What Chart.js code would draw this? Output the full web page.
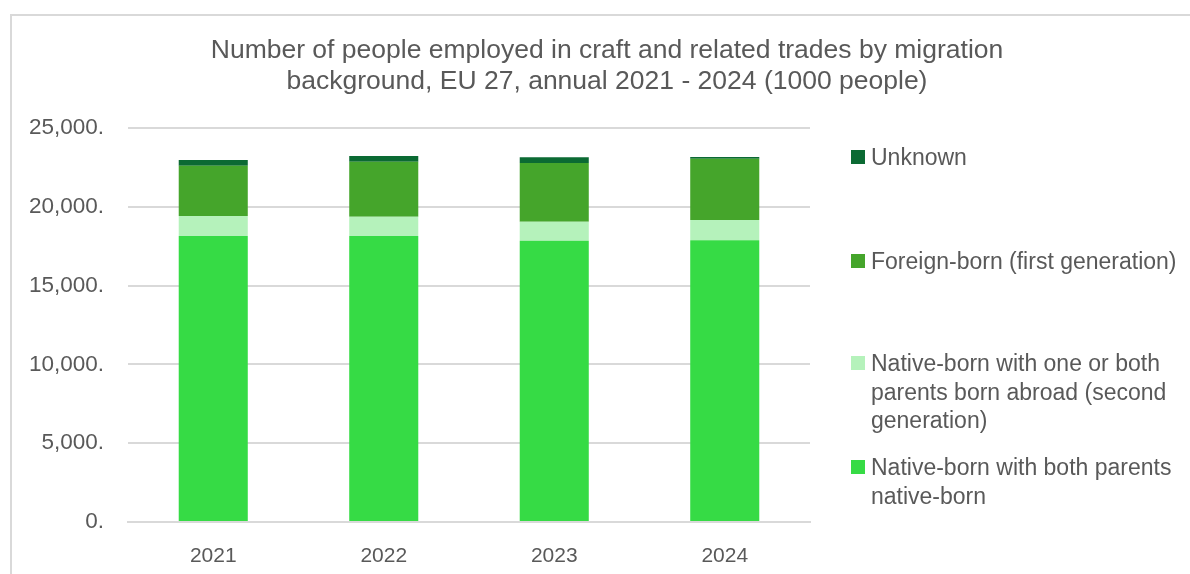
<!DOCTYPE html>
<html>
<head>
<meta charset="utf-8">
<script src="https://cdn.jsdelivr.net/npm/chart.js@4/dist/chart.umd.min.js"></script>
<style>
  html, body { margin: 0; padding: 0; background: #fff; }
  body { width: 1190px; height: 574px; position: relative; overflow: hidden; font-family: "Liberation Sans", Arial, sans-serif; color: #595959; }
  .frame { position: absolute; left: 10px; top: 14px; width: 1300px; height: 700px; border: 2px solid #d9d9d9; box-sizing: border-box; }
  #wrap { position: absolute; left: 0; top: 0; width: 1190px; height: 574px; }
  .title { position: absolute; left: 0; top: 34px; width: 1214px; text-align: center; font-size: 26.5px; line-height: 31px; }
  .legend { position: absolute; left: 851px; top: 0; }
  .item { position: absolute; left: 0; width: 335px; font-size: 23px; line-height: 28.5px; padding-left: 20px; }
  .item i { position: absolute; left: 0; top: 7px; width: 14px; height: 14px; }
</style>
</head>
<body>
<div class="frame"></div>
<div id="wrap"><canvas id="chart" width="1190" height="574"></canvas></div>
<div class="title">Number of people employed in craft and related trades by migration<br>background, EU 27, annual 2021 - 2024 (1000 people)</div>
<div class="legend" id="legend"></div>
<script>
const years = ["2021", "2022", "2023", "2024"];
const nativeBoth = [18150, 18150, 17850, 17870];
const secondGen = [1270, 1220, 1200, 1290];
const foreignBorn = [3190, 3490, 3730, 3890];
const unknown = [360, 360, 360, 110];
const yTicks = [0, 5000, 10000, 15000, 20000, 25000];

const series = [
  { label: "Native-born with both parents native-born", data: nativeBoth, color: "#36db45" },
  { label: "Native-born with one or both parents born abroad (second generation)", data: secondGen, color: "#b5f2bb" },
  { label: "Foreign-born (first generation)", data: foreignBorn, color: "#45a52b" },
  { label: "Unknown", data: unknown, color: "#0b6a33" }
];

const ctx = document.getElementById("chart");
const chart = new Chart(ctx, {
  type: "bar",
  data: {
    labels: years,
    datasets: series.map(s => ({
      label: s.label,
      data: s.data,
      backgroundColor: s.color,
      borderWidth: 0,
      categoryPercentage: 1,
      barPercentage: 0.405
    }))
  },
  options: {
    responsive: false,
    animation: false,
    layout: { padding: { left: 0, top: 128, right: 380, bottom: 0 } },
    plugins: { legend: { display: false }, title: { display: false }, tooltip: { enabled: false } },
    scales: {
      x: {
        stacked: true,
        grid: { display: false },
        border: { color: "#d9d9d9", width: 2 },
        ticks: { color: "#595959", font: { family: "Liberation Sans", size: 21 }, padding: 14 },
        afterFit: s => { s.height = 52; }
      },
      y: {
        stacked: true,
        min: 0,
        max: 25000,
        afterBuildTicks: s => { s.ticks = yTicks.map(v => ({ value: v })); },
        grid: { color: "#d9d9d9", lineWidth: 2, drawTicks: false },
        border: { display: false },
        ticks: {
          color: "#595959",
          font: { family: "Liberation Sans", size: 22.5 },
          padding: 24,
          callback: v => v.toLocaleString("en-US") + "."
        },
        afterFit: s => { s.width = 128; }
      }
    }
  }
});

// legend entries top-down, stacked order reversed
const legendTops = [143, 247, 349, 453];
const legend = document.getElementById("legend");
series.slice().reverse().forEach((s, i) => {
  const el = document.createElement("div");
  el.className = "item";
  el.style.top = legendTops[i] + "px";
  el.innerHTML = '<i style="background:' + s.color + '"></i>' + s.label;
  legend.appendChild(el);
});
</script>
</body>
</html>
